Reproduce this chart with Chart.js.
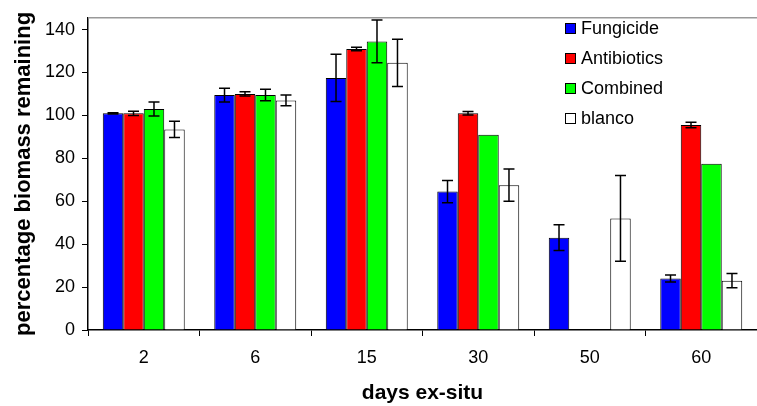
<!DOCTYPE html>
<html>
<head>
<meta charset="utf-8">
<script src="https://cdn.jsdelivr.net/npm/chart.js@4.4.1/dist/chart.umd.min.js"></script>
<style>
  body { margin: 0; background: #fff; }
  #wrap { width: 757px; height: 406px; }
</style>
</head>
<body>
<div id="wrap"><canvas id="myChart"></canvas></div>
<script>
const days = ['2', '6', '15', '30', '50', '60'];

const fungicide = [101, 109.5, 117.5, 64.5, 43, 24];
const fungicideErr = [0.3, 3.2, 11, 5.2, 6, 1.6];

const antibiotics = [101, 110, 131, 101, null, 95.5];
const antibioticsErr = [1, 1, 0.8, 0.8, null, 1.3];

const combined = [103, 109.5, 134.5, 91, null, 77.5];
const combinedErr = [3.3, 2.7, 10, 0, null, 0];

const blanco = [93.5, 107, 124.5, 67.5, 52, 23];
const blancoErr = [3.8, 2.5, 11, 7.5, 20, 3.3];

const yTicks = [0, 20, 40, 60, 80, 100, 120, 140];

Chart.defaults.font.family = '"Liberation Sans", Arial, sans-serif';
Chart.defaults.color = '#000';

// error bars, drawn from the y scale
const errorBars = {
  id: 'errorBars',
  afterDatasetsDraw(chart) {
    const ctx = chart.ctx;
    const y = chart.scales.y;
    ctx.save();
    ctx.strokeStyle = '#000';
    ctx.lineWidth = 1.5;
    chart.data.datasets.forEach((ds, i) => {
      const meta = chart.getDatasetMeta(i);
      meta.data.forEach((bar, j) => {
        const v = ds.data[j];
        const e = ds.errors[j];
        if (v == null || !e) return;
        const top = y.getPixelForValue(v + e);
        const bot = y.getPixelForValue(v - e);
        ctx.beginPath();
        ctx.moveTo(bar.x, top); ctx.lineTo(bar.x, bot);
        ctx.moveTo(bar.x - 5.5, top); ctx.lineTo(bar.x + 5.5, top);
        ctx.moveTo(bar.x - 5.5, bot); ctx.lineTo(bar.x + 5.5, bot);
        ctx.stroke();
      });
    });
    ctx.restore();
  }
};

// legend inside the plot + grey top border
const extras = {
  id: 'extras',
  afterDraw(chart) {
    const ctx = chart.ctx;
    const area = chart.chartArea;
    ctx.save();
    ctx.strokeStyle = '#999';
    ctx.lineWidth = 1.5;
    ctx.beginPath();
    ctx.moveTo(area.left, area.top); ctx.lineTo(area.right, area.top);
    ctx.stroke();

    ctx.font = '18px "Liberation Sans", Arial, sans-serif';
    ctx.textBaseline = 'middle';
    ctx.fillStyle = '#000';
    chart.data.datasets.forEach((ds, i) => {
      const yy = 28 + i * 30;
      ctx.fillStyle = ds.backgroundColor;
      ctx.fillRect(565, yy - 5, 10, 10);
      ctx.strokeStyle = '#000';
      ctx.lineWidth = 1;
      ctx.strokeRect(565.5, yy - 4.5, 10, 10);
      ctx.fillStyle = '#000';
      ctx.fillText(ds.label, 581, yy + 1);
    });
    ctx.restore();
  }
};

const data = {
  labels: days,
  datasets: [
    { label: 'Fungicide', data: fungicide, errors: fungicideErr, backgroundColor: '#0000ff' },
    { label: 'Antibiotics', data: antibiotics, errors: antibioticsErr, backgroundColor: '#ff0000' },
    { label: 'Combined', data: combined, errors: combinedErr, backgroundColor: '#00ff00' },
    { label: 'blanco', data: blanco, errors: blancoErr, backgroundColor: '#ffffff' }
  ]
};
data.datasets.forEach(ds => {
  ds.borderColor = '#000';
  ds.borderWidth = 1;
  ds.borderSkipped = 'bottom';
  ds.categoryPercentage = 0.735;
  ds.barPercentage = 1.0;
});

const config = {
  type: 'bar',
  data: data,
  plugins: [errorBars, extras],
  options: {
    responsive: true,
    maintainAspectRatio: false,
    animation: false,
    layout: { padding: { top: 10, left: 0, right: 0, bottom: 0 } },
    plugins: {
      legend: { display: false },
      tooltip: { enabled: false }
    },
    scales: {
      x: {
        grid: { display: true, drawOnChartArea: false, offset: true, tickLength: 6, color: '#000' },
        border: { color: '#000', width: 1.5 },
        ticks: { font: { size: 18 }, padding: 11, color: '#000' },
        title: { display: true, text: 'days ex-situ', font: { size: 21, weight: 'bold' }, padding: { top: 0, bottom: 0 } },
        afterFit(s) { s.height = 76; }
      },
      y: {
        min: 0,
        max: 145.5,
        grid: { display: true, drawOnChartArea: false, tickLength: 6, color: '#000' },
        border: { color: '#000', width: 1.5 },
        ticks: { font: { size: 18 }, padding: 7, color: '#000' },
        afterBuildTicks(s) { s.ticks = yTicks.map(v => ({ value: v })); },
        title: { display: true, text: 'percentage biomass remaining', font: { size: 22, weight: 'bold' }, padding: { top: 11, bottom: 0 } },
        afterFit(s) { s.width = 88; }
      }
    }
  }
};

const myChart = new Chart(document.getElementById('myChart'), config);
</script>
</body>
</html>
